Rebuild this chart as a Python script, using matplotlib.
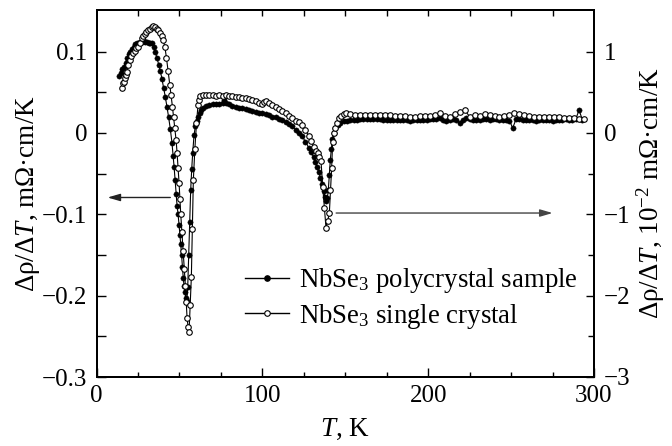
import matplotlib
matplotlib.use("Agg")
import matplotlib.pyplot as plt
from matplotlib.ticker import FixedLocator, NullFormatter
from matplotlib.lines import Line2D

plt.rcParams['font.family'] = ['Liberation Serif', 'DejaVu Serif']
plt.rcParams['mathtext.fontset'] = 'custom'
plt.rcParams['mathtext.rm'] = 'Liberation Serif'
plt.rcParams['mathtext.it'] = 'Liberation Serif:italic'
plt.rcParams['mathtext.bf'] = 'Liberation Serif:bold'

# ---------------- data ----------------
# NbSe3 polycrystal sample, left axis (mOhm*cm/K)
poly_T = [13.5, 14.5, 15.5, 16.5, 17.5, 18.5, 19.5, 20.5, 21.5, 22.5, 23.5, 24.5,
          25.5, 26.5, 27.5, 28.5, 29.5, 30.5, 31.5, 32.5, 33.5, 34.5, 35.5, 36.5,
          37.5, 38.5, 39.5, 40.5, 41.5, 42.5, 43.5, 44.5, 45.5, 46.2, 46.8, 47.4,
          48.0, 48.6, 49.2, 49.8, 50.3, 50.8, 51.3, 51.8, 52.3, 52.8, 53.3, 53.8,
          54.4, 55.0, 55.6, 56.2, 56.8, 57.4, 58.0, 58.8, 59.6, 60.4, 61.2, 62.2,
          63.2, 64.5, 66.0, 68.0, 70.0, 72.0, 74.0, 76.0, 77.0, 78.0, 80.0, 82.0,
          84.0, 86.0, 88.0, 90.0, 92.0, 94.0, 96.0, 98.0, 100.0, 102.0, 104.0, 106.0,
          108.0, 110.0, 112.0, 114.0, 116.0, 118.0, 120.0, 122.0, 124.0, 126.0, 128.0, 129.5,
          131.0, 132.0, 133.0, 134.0, 135.0, 136.0, 137.0, 137.8, 138.4, 139.2, 139.8, 140.4,
          141.0, 141.6, 142.2, 143.0, 144.0, 145.5, 147.0, 149.0,
          151, 153, 155, 157, 159, 161, 163, 165, 167, 169, 171, 173, 175, 177, 179, 181,
          183, 185, 187, 189, 191, 193, 195, 197, 199, 201, 203, 205, 207, 209, 211, 213,
          215, 217, 219, 221, 223, 225, 227, 229, 231, 233, 235, 237, 239, 241, 243, 245,
          247, 249, 251, 253, 255, 257, 259, 261, 263, 265, 267, 269, 271, 273, 275, 277,
          279, 281, 283, 285, 287, 289, 291, 293]
poly_v = [0.070, 0.074, 0.079, 0.081, 0.086, 0.092, 0.097, 0.100, 0.103, 0.106, 0.109, 0.110,
          0.111, 0.112, 0.112, 0.113, 0.112, 0.112, 0.111, 0.111, 0.110, 0.106, 0.099, 0.092,
          0.084, 0.076, 0.066, 0.055, 0.044, 0.032, 0.019, 0.005, -0.012, -0.028, -0.042, -0.058,
          -0.075, -0.090, -0.100, -0.113, -0.125, -0.137, -0.150, -0.165, -0.178, -0.188, -0.196, -0.203,
          -0.207, -0.190, -0.150, -0.109, -0.070, -0.045, -0.025, -0.003, 0.008, 0.014, 0.019, 0.025,
          0.028, 0.031, 0.033, 0.034, 0.035, 0.035, 0.036, 0.037, 0.040, 0.037, 0.035, 0.033,
          0.032, 0.031, 0.030, 0.029, 0.028, 0.027, 0.026, 0.025, 0.024, 0.023, 0.022, 0.020,
          0.019, 0.017, 0.016, 0.013, 0.011, 0.008, 0.004, 0.000, -0.004, -0.011, -0.018, -0.024,
          -0.030, -0.036, -0.042, -0.048, -0.055, -0.063, -0.072, -0.079, -0.084, -0.080, -0.070, -0.052,
          -0.033, -0.020, -0.008, 0.000, 0.006, 0.010, 0.012, 0.014,
          0.015, 0.016, 0.016, 0.016, 0.017, 0.017, 0.017, 0.017, 0.017, 0.017, 0.017, 0.016,
          0.016, 0.016, 0.016, 0.016, 0.016, 0.016, 0.016, 0.015, 0.016, 0.016, 0.016, 0.016,
          0.016, 0.017, 0.017, 0.017, 0.018, 0.016, 0.015, 0.016, 0.017, 0.016, 0.012, 0.016,
          0.018, 0.017, 0.016, 0.016, 0.016, 0.017, 0.017, 0.016, 0.017, 0.017, 0.016, 0.016,
          0.016, 0.015, 0.006, 0.017, 0.017, 0.016, 0.016, 0.016, 0.016, 0.015, 0.016, 0.016,
          0.016, 0.016, 0.015, 0.016, 0.016, 0.016, 0.017, 0.016, 0.016, 0.017, 0.028, 0.016]

# NbSe3 single crystal, right axis (10^-2 mOhm*cm/K)
single_T = [15.2, 15.8, 16.5, 17.1, 17.6, 18.2, 19.1, 20.1, 21.1, 22.1, 23.1, 24.1,
            25.1, 26.1, 27.2, 28.2, 29.2, 30.1, 31.1, 32.1, 33.2, 34.2, 35.2, 36.2,
            37.2, 38.2, 39.2, 40.2, 41.2, 42.2, 43.2, 44.2, 45.0, 45.8, 46.5, 47.2,
            48.0, 48.6, 49.2, 49.8, 50.3, 50.8, 51.5, 52.2, 52.9, 53.6, 54.1, 54.6,
            55.2, 55.8, 56.5, 57.2, 57.8, 58.4, 59.3, 60.3, 61.2, 62.0, 62.7, 64,
            66, 68, 70, 72, 74, 76, 78, 80, 82, 84, 86, 88,
            90, 92, 94, 96, 98, 99.5, 101, 102.5, 104, 106, 108, 110,
            112, 114, 116, 118, 120, 122, 124, 126, 128, 129.5, 131, 132.4,
            133.4, 134.4, 135.4, 136.4, 137.4, 138.4, 139.4, 140.4, 141.1, 141.8, 142.4, 143.2,
            144.0, 145.2, 146.4, 147.6, 149, 150.4,
            153, 156, 159, 162, 165, 168, 171, 174, 177, 180, 183, 186,
            189, 192, 195, 198, 201, 204, 207, 210, 213, 216, 219, 222,
            225, 228, 231, 234, 237, 240, 243, 246, 249, 252, 255, 258,
            261, 264, 267, 270, 273, 276, 279, 282, 285, 288, 291, 294]
single_v = [0.55, 0.61, 0.63, 0.67, 0.71, 0.75, 0.83, 0.90, 0.95, 0.98, 1.01, 1.04,
            1.06, 1.11, 1.16, 1.19, 1.22, 1.24, 1.26, 1.28, 1.30, 1.31, 1.30, 1.28,
            1.26, 1.23, 1.19, 1.14, 1.06, 0.92, 0.76, 0.59, 0.46, 0.32, 0.19, 0.06,
            -0.09, -0.25, -0.43, -0.62, -0.81, -1.00, -1.22, -1.45, -1.67, -1.88, -2.08, -2.27,
            -2.38, -2.45, -2.12, -1.77, -1.18, -0.58, -0.20, 0.12, 0.34, 0.41, 0.45, 0.46,
            0.46, 0.46, 0.46, 0.45, 0.46, 0.45, 0.46, 0.45, 0.45, 0.44, 0.44, 0.43,
            0.43, 0.42, 0.41, 0.39, 0.37, 0.36, 0.38, 0.39, 0.37, 0.34, 0.32, 0.29,
            0.27, 0.24, 0.21, 0.18, 0.15, 0.13, 0.10, 0.03, -0.04, -0.10, -0.17, -0.22,
            -0.25, -0.30, -0.35, -0.66, -0.92, -1.17, -1.08, -0.99, -0.70, -0.43, -0.11, 0.00,
            0.06, 0.12, 0.18, 0.21, 0.23, 0.24,
            0.23, 0.22, 0.22, 0.22, 0.22, 0.22, 0.22, 0.22, 0.22, 0.21, 0.21, 0.21,
            0.20, 0.20, 0.21, 0.21, 0.21, 0.22, 0.24, 0.21, 0.19, 0.23, 0.26, 0.28,
            0.20, 0.22, 0.21, 0.23, 0.22, 0.21, 0.20, 0.21, 0.22, 0.24, 0.23, 0.22,
            0.21, 0.20, 0.20, 0.19, 0.20, 0.19, 0.19, 0.18, 0.18, 0.18, 0.17, 0.17]

labels = ['NbSe$_3$ polycrystal sample', 'NbSe$_3$ single crystal']
x_ticks = [0, 100, 200, 300]
yl_ticks = [-0.3, -0.2, -0.1, 0, 0.1]
yr_ticks = [-3, -2, -1, 0, 1]

# ---------------- figure ----------------
FS = 18
LFS = 19.5
fig = plt.figure(figsize=(6.72, 4.46), dpi=100)
ax = fig.add_axes([96.5/672, 1-377/446, (594-96.5)/672, (377-10)/446])
ax2 = ax.twinx()

ax.plot(poly_T, poly_v, '-', color='black', lw=0.8, marker='o', ms=3.8,
        mfc='black', mec='black', mew=0.3, zorder=3)
ax2.plot(single_T, single_v, '-', color='black', lw=0.8, marker='o', ms=4.0,
         mfc='white', mec='black', mew=0.8, zorder=4)

ax.set_xlim(0, 300)
ax.set_ylim(-0.3, 0.151)
ax2.set_ylim(-3, 1.51)

ax.set_xticks(x_ticks)
ax.set_xticklabels([str(t) for t in x_ticks])
ax.xaxis.set_minor_locator(FixedLocator([25, 50, 75, 125, 150, 175, 225, 250, 275]))
ax.set_yticks(yl_ticks)
ax.set_yticklabels(['\u22120.3', '\u22120.2', '\u22120.1', '0', '0.1'])
ax.yaxis.set_minor_locator(FixedLocator([-0.25, -0.15, -0.05, 0.05]))
ax2.set_yticks(yr_ticks)
ax2.set_yticklabels(['\u22123', '\u22122', '\u22121', '0', '1'])
ax2.yaxis.set_minor_locator(FixedLocator([-2.5, -1.5, -0.5, 0.5]))

ax.tick_params(axis='x', which='major', direction='in', length=6.5, width=1.0,
               labelsize=FS, pad=6, top=False)
ax.tick_params(axis='x', which='minor', direction='in', length=3.8, width=1.0, top=False)
ax.tick_params(axis='y', which='both', direction='in', length=6.5, width=1.0,
               labelsize=FS, pad=6.5, right=False)
ax2.tick_params(axis='y', which='major', direction='in', length=6, width=1.0,
                labelsize=FS, pad=7)
ax2.tick_params(axis='y', which='minor', direction='in', length=4, width=1.0)

# top ticks (short, every 25 K)
sec = ax.secondary_xaxis('top')
sec.set_xticks([25, 50, 75, 100, 125, 150, 175, 200, 225, 250, 275])
sec.tick_params(direction='in', length=4, width=1.0, labeltop=False)
sec.xaxis.set_major_formatter(NullFormatter())
sec.spines['top'].set_linewidth(1.4)

for s in ax.spines.values():
    s.set_linewidth(1.4)
for s in ax2.spines.values():
    s.set_linewidth(1.4)

ax.set_xlabel('$T$, K', fontsize=LFS, labelpad=7)
ax.set_ylabel('\u0394\u03c1/\u0394$T$, m\u03a9\u00b7cm/K', fontsize=LFS, labelpad=0)
ax2.set_ylabel('\u0394\u03c1/\u0394$T$, 10$^{\u22122}$ m\u03a9\u00b7cm/K', fontsize=LFS,
               rotation=90, labelpad=3)

# arrows
ax.annotate('', xy=(6.7, -0.0794), xytext=(44.5, -0.0794),
            arrowprops=dict(arrowstyle='-|>,head_length=0.75,head_width=0.22',
                            mutation_scale=10, lw=1.0, color='#222222',
                            shrinkA=0, shrinkB=0))
ax.annotate('', xy=(275, -0.0985), xytext=(144.5, -0.0985),
            arrowprops=dict(arrowstyle='-|>,head_length=0.75,head_width=0.22',
                            mutation_scale=10, lw=1.0, color='#444444',
                            shrinkA=0, shrinkB=0))

handles = [Line2D([], [], color='black', lw=1.0, marker='o', ms=3.8, mfc='black', mec='black'),
           Line2D([], [], color='black', lw=1.0, marker='o', ms=4.0, mfc='white', mec='black', mew=0.8)]
leg = ax2.legend(handles, labels, loc='center left', bbox_to_anchor=(245/672, 1-298.5/446),
                 bbox_transform=fig.transFigure, frameon=False, fontsize=19.3,
                 handlelength=1.65, handletextpad=0.35, labelspacing=0.25,
                 borderpad=0, borderaxespad=0, numpoints=1)

fig.savefig('out.png', dpi=100)
